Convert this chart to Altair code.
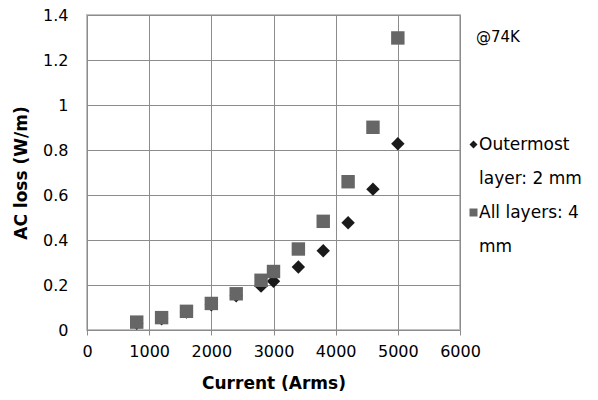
import altair as alt
import pandas as pd

current = [800, 1200, 1600, 2000, 2400, 2800, 3000, 3400, 3800, 4200, 4600, 5000]
outer_loss = [0.03, 0.05, 0.08, 0.112, 0.152, 0.195, 0.217, 0.28, 0.352, 0.477, 0.626, 0.828]
all_loss = [0.035, 0.055, 0.083, 0.118, 0.161, 0.221, 0.26, 0.36, 0.483, 0.659, 0.901, 1.298]
series_names = ["Outermost layer: 2 mm", "All layers: 4 mm"]
# legend rows: each series name is wrapped over two legend rows
legend_rows = ["Outermost layer: 2 mm", "Outermost layer: 2 mm (cont.)",
               "All layers: 4 mm", "All layers: 4 mm (cont.)"]
legend_text = ["Outermost", "layer: 2 mm", "All layers: 4", "mm"]
legend_shapes = ["diamond", "square", "square", "square"]
legend_colors = ["#1a1a1a", "transparent", "#666666", "transparent"]
x_ticks = [0, 1000, 2000, 3000, 4000, 5000, 6000]
y_ticks = [0, 0.2, 0.4, 0.6, 0.8, 1.0, 1.2, 1.4]
note = "@74K"

rows = []
for i, c in enumerate(current):
    rows.append({"current": c, "loss": outer_loss[i], "series": series_names[0], "order": 0})
for i, c in enumerate(current):
    rows.append({"current": c, "loss": all_loss[i], "series": series_names[1], "order": 1})
df = pd.DataFrame(rows)

FONT = "DejaVu Sans"

label_expr = " : ".join(
    f"datum.label == '{k}' ? '{v}'" for k, v in zip(legend_rows, legend_text)
) + " : datum.label"


def make_legend():
    return alt.Legend(title=note, orient="none", legendX=389, legendY=15,
                      symbolSize=64, symbolOffset={"expr": "-11"},
                      labelOffset={"expr": "-3"},
                      labelFontSize=17, labelFont=FONT, labelColor="#000000",
                      titleFont=FONT, titleFontSize=15, titleFontWeight="normal",
                      titleColor="#000000",
                      labelExpr=label_expr, labelBaseline="middle",
                      titlePadding=91, rowPadding=16, padding=0,
                      labelLimit=200)


chart = alt.Chart(df).mark_point(filled=True, opacity=1, size=180).encode(
    x=alt.X("current:Q", title="Current (Arms)",
            scale=alt.Scale(domain=[0, 6000], nice=False),
            axis=alt.Axis(values=x_ticks, format="d", tickSize=5, labelPadding=8,
                          labelFlush=False, titlePadding=16)),
    y=alt.Y("loss:Q", title="AC loss (W/m)",
            scale=alt.Scale(domain=[0, 1.4], nice=False),
            axis=alt.Axis(values=y_ticks, format="~g", tickSize=0, labelPadding=19,
                          labelFlush=False, titlePadding=12)),
    shape=alt.Shape("series:N", scale=alt.Scale(domain=legend_rows, range=legend_shapes),
                    legend=make_legend()),
    color=alt.Color("series:N", scale=alt.Scale(domain=legend_rows, range=legend_colors),
                    legend=make_legend()),
    order=alt.Order("order:Q"),
).properties(
    width=373, height=315,
    background="white",
    autosize=alt.AutoSizeParams(type="none"),
    padding={"left": 87, "top": 15, "right": 138, "bottom": 70},
).configure_view(
    stroke="#c0c0c0", strokeWidth=2
).configure_axis(
    labelFont=FONT, titleFont=FONT, labelFontSize=16, titleFontSize=17,
    labelColor="#000000", titleColor="#000000", titleFontWeight="bold",
    gridColor="#8c8c8c", domainColor="#8c8c8c", tickColor="#8c8c8c",
    gridOpacity=1, gridWidth=1, domainWidth=1, tickWidth=1,
)

chart.save("out.html", embed_options={"renderer": "svg", "actions": False})
